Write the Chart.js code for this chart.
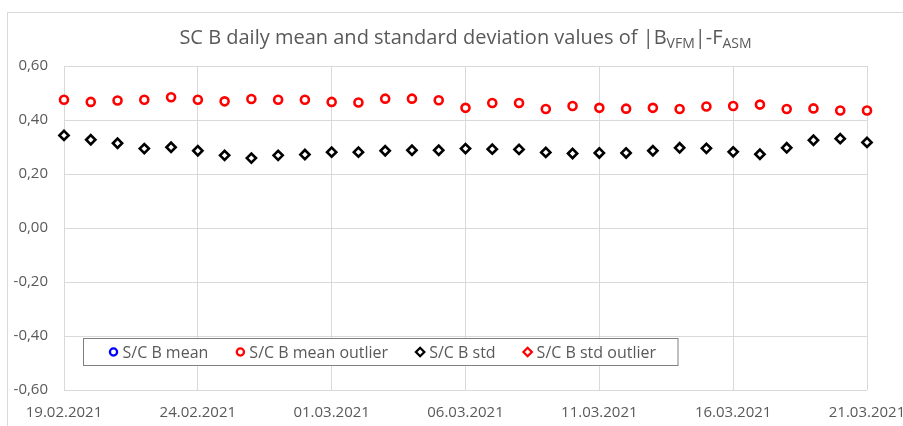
<!DOCTYPE html>
<html>
<head>
<meta charset="utf-8">
<script src="https://cdn.jsdelivr.net/npm/chart.js@4.4.1/dist/chart.umd.min.js"></script>
<style>
  html, body { margin: 0; padding: 0; background: #fff; }
  #wrap { width: 903px; height: 426px; position: relative; }
</style>
</head>
<body>
<div id="wrap"><canvas id="chart" width="903" height="426"></canvas></div>
<script>
const dates = [
    '19.02.2021', '20.02.2021', '21.02.2021', '22.02.2021', '23.02.2021', '24.02.2021',
    '25.02.2021', '26.02.2021', '27.02.2021', '28.02.2021', '01.03.2021', '02.03.2021',
    '03.03.2021', '04.03.2021', '05.03.2021', '06.03.2021', '07.03.2021', '08.03.2021',
    '09.03.2021', '10.03.2021', '11.03.2021', '12.03.2021', '13.03.2021', '14.03.2021',
    '15.03.2021', '16.03.2021', '17.03.2021', '18.03.2021', '19.03.2021', '20.03.2021',
    '21.03.2021'
];

const meanValues = [];
const meanOutlierValues = [
    0.475, 0.467, 0.472, 0.475, 0.484, 0.475, 0.469, 0.478, 0.475, 0.475, 0.467,
    0.465, 0.479, 0.479, 0.473, 0.445, 0.463, 0.463, 0.441, 0.452, 0.445, 0.442,
    0.445, 0.441, 0.450, 0.452, 0.457, 0.441, 0.443, 0.435, 0.435
];
const stdValues = [
    0.343, 0.327, 0.314, 0.294, 0.299, 0.286, 0.269, 0.259, 0.269, 0.272, 0.281,
    0.281, 0.286, 0.288, 0.288, 0.294, 0.292, 0.291, 0.280, 0.276, 0.278, 0.278,
    0.286, 0.297, 0.295, 0.282, 0.273, 0.297, 0.325, 0.331, 0.317
];
const stdOutlierValues = [];

const FONT = "'Open Sans', 'Noto Sans', sans-serif";
const TEXT_COLOR = '#595959';
const GRID_COLOR = '#d9d9d9';

const series = [
    { label: 'S/C B mean', data: meanValues, color: '#0000ff', style: 'circle' },
    { label: 'S/C B mean outlier', data: meanOutlierValues, color: '#ff0000', style: 'circle' },
    { label: 'S/C B std', data: stdValues, color: '#000000', style: 'rectRot' },
    { label: 'S/C B std outlier', data: stdOutlierValues, color: '#ff0000', style: 'rectRot' }
];

// draws the outer frame, the title with subscripts and the boxed legend
const decorations = {
    id: 'decorations',
    beforeDraw(chart) {
        const ctx = chart.ctx;
        ctx.save();
        ctx.strokeStyle = GRID_COLOR;
        ctx.lineWidth = 1;
        ctx.strokeRect(7.5, 12.5, 960, 500);
        ctx.restore();
    },
    afterDraw(chart) {
        const ctx = chart.ctx;
        const area = chart.chartArea;
        ctx.save();

        // title
        const parts = [
            { t: 'SC B daily mean and standard deviation values of |B', sub: false },
            { t: 'VFM', sub: true },
            { t: '|-F', sub: false },
            { t: 'ASM', sub: true }
        ];
        const mainFont = '20px ' + FONT;
        const subFont = '14px ' + FONT;
        let total = 0;
        parts.forEach(p => {
            ctx.font = p.sub ? subFont : mainFont;
            p.w = ctx.measureText(p.t).width;
            total += p.w;
        });
        let x = (area.left + area.right) / 2 - total / 2;
        const baseY = 44;
        ctx.fillStyle = TEXT_COLOR;
        ctx.textBaseline = 'alphabetic';
        ctx.textAlign = 'left';
        parts.forEach(p => {
            ctx.font = p.sub ? subFont : mainFont;
            ctx.fillText(p.t, x, p.sub ? baseY + 4 : baseY);
            x += p.w;
        });

        // legend
        const boxLeft = area.left + 19.5;
        const boxTop = area.bottom - 51.5;
        const boxH = 27;
        const cy = boxTop + boxH / 2;
        ctx.font = '16px ' + FONT;
        ctx.textBaseline = 'middle';
        let lx = boxLeft + 30;
        const items = [];
        series.forEach(s => {
            items.push({ s, mx: lx, tx: lx + 9 });
            lx += 9 + ctx.measureText(s.label).width + 32;
        });
        const boxRight = lx - 32 + 22;
        ctx.fillStyle = '#ffffff';
        ctx.fillRect(boxLeft, boxTop, boxRight - boxLeft, boxH);
        ctx.strokeStyle = '#808080';
        ctx.lineWidth = 1;
        ctx.strokeRect(boxLeft, boxTop, boxRight - boxLeft, boxH);
        items.forEach(({ s, mx, tx }) => {
            ctx.strokeStyle = s.color;
            ctx.fillStyle = '#ffffff';
            ctx.lineWidth = 2.3;
            Chart.helpers.drawPoint(ctx, { pointStyle: s.style, radius: s.style === 'circle' ? 3.6 : 4.2, borderWidth: 2.3 }, mx, cy);
            ctx.fillStyle = TEXT_COLOR;
            ctx.fillText(s.label, tx, cy + 1);
        });
        ctx.restore();
    }
};

const ctx = document.getElementById('chart').getContext('2d');

const chart = new Chart(ctx, {
    type: 'line',
    data: {
        labels: dates,
        datasets: series.map(s => ({
            label: s.label,
            data: s.data,
            showLine: false,
            pointStyle: s.style,
            pointRadius: s.style === 'circle' ? 4 : 4.6,
            pointHoverRadius: s.style === 'circle' ? 4 : 4.6,
            pointBorderWidth: 2.6,
            pointBorderColor: s.color,
            pointBackgroundColor: '#ffffff'
        }))
    },
    options: {
        responsive: false,
        animation: false,
        devicePixelRatio: 1,
        layout: { padding: { top: 66, right: 36, bottom: 0, left: 0 } },
        plugins: {
            legend: { display: false },
            title: { display: false },
            tooltip: { enabled: false }
        },
        scales: {
            x: {
                offset: false,
                grid: {
                    color: c => (c.index % 5 === 0 || c.index === dates.length - 1) ? GRID_COLOR : 'rgba(0,0,0,0)',
                    drawTicks: false
                },
                border: { display: false },
                ticks: {
                    autoSkip: false,
                    maxRotation: 0,
                    padding: 14,
                    color: TEXT_COLOR,
                    font: { family: FONT, size: 15 },
                    callback: (v, i) => (i % 5 === 0 ? dates[i] : '')
                },
                afterFit: scale => {
                    scale.height = 36;
                    scale.paddingLeft = 0;
                    scale.paddingRight = 0;
                }
            },
            y: {
                min: -0.6,
                max: 0.6,
                grid: { color: GRID_COLOR, drawTicks: false },
                border: { display: false },
                ticks: {
                    stepSize: 0.2,
                    padding: 16,
                    color: TEXT_COLOR,
                    font: { family: FONT, size: 15 },
                    callback: v => v.toFixed(2).replace('.', ',')
                },
                afterFit: scale => {
                    scale.width = 64;
                    scale.paddingTop = 0;
                    scale.paddingBottom = 0;
                }
            }
        }
    },
    plugins: [decorations]
});
</script>
</body>
</html>
